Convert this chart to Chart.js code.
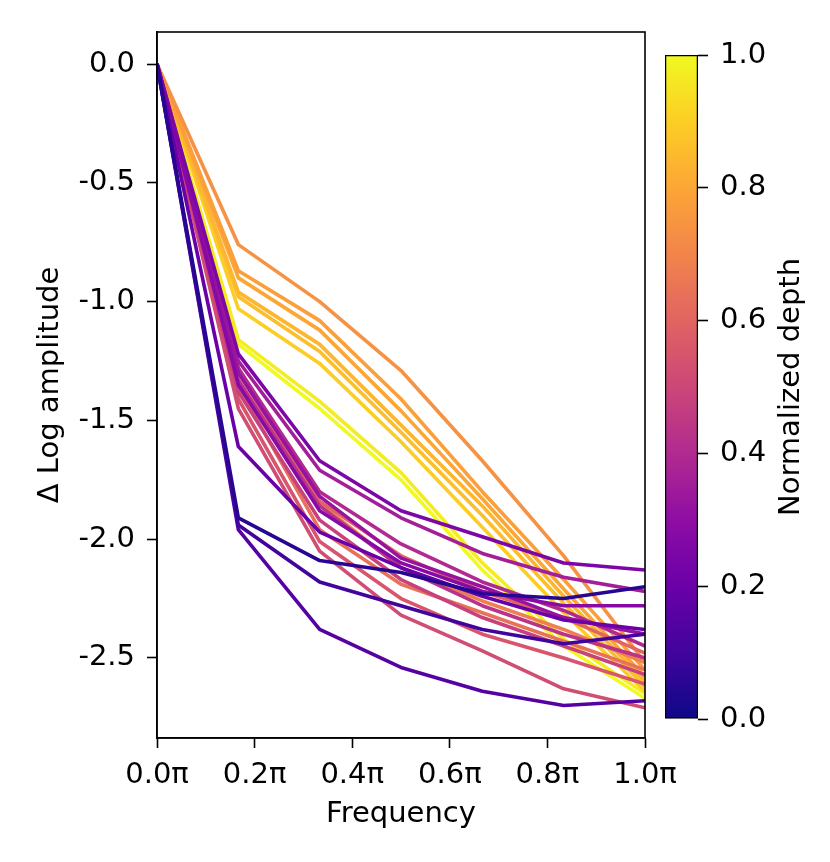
<!DOCTYPE html>
<html>
<head>
    <meta charset="UTF-8">
    <title>Log amplitude vs frequency</title>
    <script src="https://cdn.jsdelivr.net/npm/chart.js"></script>
    <style>
        body { margin: 0; background: #fff; }
        .wrap { position: relative; width: 830px; height: 862px; }
        #mainChart { position: absolute; left: 0; top: 0; }
        #barChart { position: absolute; left: 650px; top: 0; }
    </style>
</head>
<body>
<div class="wrap">
    <canvas id="mainChart" width="830" height="862"></canvas>
    <canvas id="barChart" width="180" height="862"></canvas>
</div>
<script>
// 頻率 (單位 π)
const freqs = [0, 1/6, 2/6, 3/6, 4/6, 5/6, 1];
const xTicks = [0, 0.2, 0.4, 0.6, 0.8, 1.0];
const yTicks = [0, -0.5, -1.0, -1.5, -2.0, -2.5];
const cbTicks = [0, 0.2, 0.4, 0.6, 0.8, 1.0];

// 每條曲線的正規化深度
const depths = [0.05, 0.10, 0.15, 0.20, 0.25, 0.28, 0.32, 0.36, 0.40, 0.43, 0.48, 0.52,
                0.55, 0.60, 0.64, 0.68, 0.74, 0.78, 0.80, 0.84, 0.86, 0.90, 0.97, 1.00];

// Δ log amplitude
const curves = [
    [0, -1.91, -2.09, -2.14, -2.23, -2.25, -2.20],
    [0, -1.94, -2.18, -2.28, -2.38, -2.44, -2.40],
    [0, -1.96, -2.38, -2.54, -2.64, -2.70, -2.68],
    [0, -1.61, -1.97, -2.12, -2.24, -2.34, -2.38],
    [0, -1.22, -1.67, -1.88, -1.99, -2.10, -2.13],
    [0, -1.35, -1.88, -2.10, -2.22, -2.28, -2.28],
    [0, -1.30, -1.82, -2.08, -2.20, -2.33, -2.40],
    [0, -1.25, -1.71, -1.91, -2.06, -2.16, -2.22],
    [0, -1.28, -1.80, -2.02, -2.18, -2.30, -2.45],
    [0, -1.33, -1.86, -2.12, -2.28, -2.40, -2.50],
    [0, -1.38, -1.92, -2.17, -2.33, -2.45, -2.57],
    [0, -1.45, -2.05, -2.32, -2.47, -2.63, -2.71],
    [0, -1.41, -2.01, -2.25, -2.40, -2.50, -2.61],
    [0, -1.30, -1.84, -2.07, -2.22, -2.33, -2.48],
    [0, -1.36, -1.96, -2.19, -2.31, -2.43, -2.55],
    [0, -1.28, -1.85, -2.12, -2.26, -2.38, -2.52],
    [0, -0.76, -1.00, -1.29, -1.67, -2.07, -2.52],
    [0, -0.87, -1.08, -1.41, -1.80, -2.17, -2.55],
    [0, -0.90, -1.12, -1.46, -1.83, -2.21, -2.58],
    [0, -0.96, -1.18, -1.52, -1.86, -2.24, -2.60],
    [0, -0.98, -1.21, -1.55, -1.90, -2.27, -2.62],
    [0, -1.03, -1.26, -1.59, -1.95, -2.31, -2.64],
    [0, -1.16, -1.42, -1.72, -2.10, -2.42, -2.65],
    [0, -1.18, -1.45, -1.75, -2.13, -2.45, -2.67]
];

// plasma 色表
const plasma = ['#0d0887', '#41049d', '#6a00a8', '#8f0da4', '#b12a90', '#cc4778',
                '#e16462', '#f2844b', '#fca636', '#fcce25', '#f0f921'];

function hexToRgb(h) {
    return [parseInt(h.slice(1, 3), 16), parseInt(h.slice(3, 5), 16), parseInt(h.slice(5, 7), 16)];
}

function plasmaColor(t) {
    const pos = Math.min(Math.max(t, 0), 1) * (plasma.length - 1);
    const i = Math.min(Math.floor(pos), plasma.length - 2);
    const f = pos - i;
    const a = hexToRgb(plasma[i]), b = hexToRgb(plasma[i + 1]);
    const c = a.map((v, k) => Math.round(v + (b[k] - v) * f));
    return `rgb(${c[0]}, ${c[1]}, ${c[2]})`;
}

const FONT = { family: 'DejaVu Sans', size: 29 };
Chart.defaults.color = '#000';
Chart.defaults.font.family = 'DejaVu Sans';

// 外框
const framePlugin = {
    id: 'frame',
    afterDraw(chart) {
        const a = chart.chartArea;
        const ctx = chart.ctx;
        ctx.save();
        ctx.strokeStyle = '#000';
        ctx.lineWidth = 1.6;
        ctx.strokeRect(a.left, a.top, a.right - a.left, a.bottom - a.top);
        ctx.restore();
    }
};

const datasets = curves.map((vals, i) => ({
    label: 'depth ' + depths[i].toFixed(2),
    data: freqs.map((f, k) => ({ x: f, y: vals[k] })),
    borderColor: plasmaColor(depths[i]),
    borderWidth: 3.6,
    borderJoinStyle: 'round',
    pointRadius: 0,
    tension: 0,
    fill: false
}));

new Chart(document.getElementById('mainChart'), {
    type: 'line',
    data: { datasets: datasets },
    options: {
        responsive: false,
        animation: false,
        events: [],
        layout: { padding: { left: 0, top: 32, right: 185, bottom: 0 } },
        plugins: { legend: { display: false }, tooltip: { enabled: false } },
        scales: {
            x: {
                type: 'linear',
                min: 0,
                max: 1,
                afterBuildTicks: (s) => { s.ticks = xTicks.map(v => ({ value: v })); },
                afterFit: (s) => { s.height = 862 - 738; },
                ticks: {
                    font: FONT,
                    padding: 10,
                    callback: (v) => Number(v).toFixed(1) + 'π'
                },
                grid: { drawOnChartArea: false, tickLength: 10, tickWidth: 1.6, tickColor: '#000' },
                border: { color: '#000', width: 1.6 },
                title: { display: true, text: 'Frequency', font: FONT, padding: { top: 0, bottom: 30 } }
            },
            y: {
                type: 'linear',
                min: -2.837,
                max: 0.135,
                afterBuildTicks: (s) => { s.ticks = yTicks.map(v => ({ value: v })); },
                afterFit: (s) => { s.width = 157; },
                ticks: {
                    font: FONT,
                    padding: 12,
                    callback: (v) => Number(v).toFixed(1)
                },
                grid: { drawOnChartArea: false, tickLength: 10, tickWidth: 1.6, tickColor: '#000' },
                border: { color: '#000', width: 1.6 },
                title: { display: true, text: 'Δ Log amplitude', font: FONT, padding: { top: 33, bottom: 0 } }
            }
        }
    },
    plugins: [framePlugin]
});

// 色條標籤
const cbLabelPlugin = {
    id: 'cbLabel',
    afterDraw(chart) {
        const a = chart.chartArea;
        const ctx = chart.ctx;
        ctx.save();
        ctx.translate(141, (a.top + a.bottom) / 2);
        ctx.rotate(-Math.PI / 2);
        ctx.font = '29px "DejaVu Sans"';
        ctx.fillStyle = '#000';
        ctx.textAlign = 'center';
        ctx.textBaseline = 'middle';
        ctx.fillText('Normalized depth', 0, 0);
        ctx.restore();
    }
};

new Chart(document.getElementById('barChart'), {
    type: 'bar',
    data: {
        labels: [''],
        datasets: [{
            data: [[0, 1]],
            backgroundColor: (c) => {
                const area = c.chart.chartArea;
                if (!area) return plasma[5];
                const g = c.chart.ctx.createLinearGradient(0, area.bottom, 0, area.top);
                plasma.forEach((col, i) => g.addColorStop(i / (plasma.length - 1), col));
                return g;
            },
            borderColor: '#000',
            borderWidth: 1.6,
            borderSkipped: false,
            barPercentage: 1,
            categoryPercentage: 1
        }]
    },
    options: {
        responsive: false,
        animation: false,
        events: [],
        layout: { padding: { left: 15, top: 55, right: 0, bottom: 862 - 719 } },
        plugins: { legend: { display: false }, tooltip: { enabled: false } },
        scales: {
            x: { display: false },
            y: {
                position: 'right',
                min: 0,
                max: 1,
                afterBuildTicks: (s) => { s.ticks = cbTicks.map(v => ({ value: v })); },
                afterFit: (s) => { s.width = 180 - 15 - 33; },
                ticks: {
                    font: FONT,
                    padding: 12,
                    callback: (v) => Number(v).toFixed(1)
                },
                grid: { drawOnChartArea: false, tickLength: 10, tickWidth: 1.6, tickColor: '#000' },
                border: { display: false }
            }
        }
    },
    plugins: [cbLabelPlugin]
});
</script>
</body>
</html>
